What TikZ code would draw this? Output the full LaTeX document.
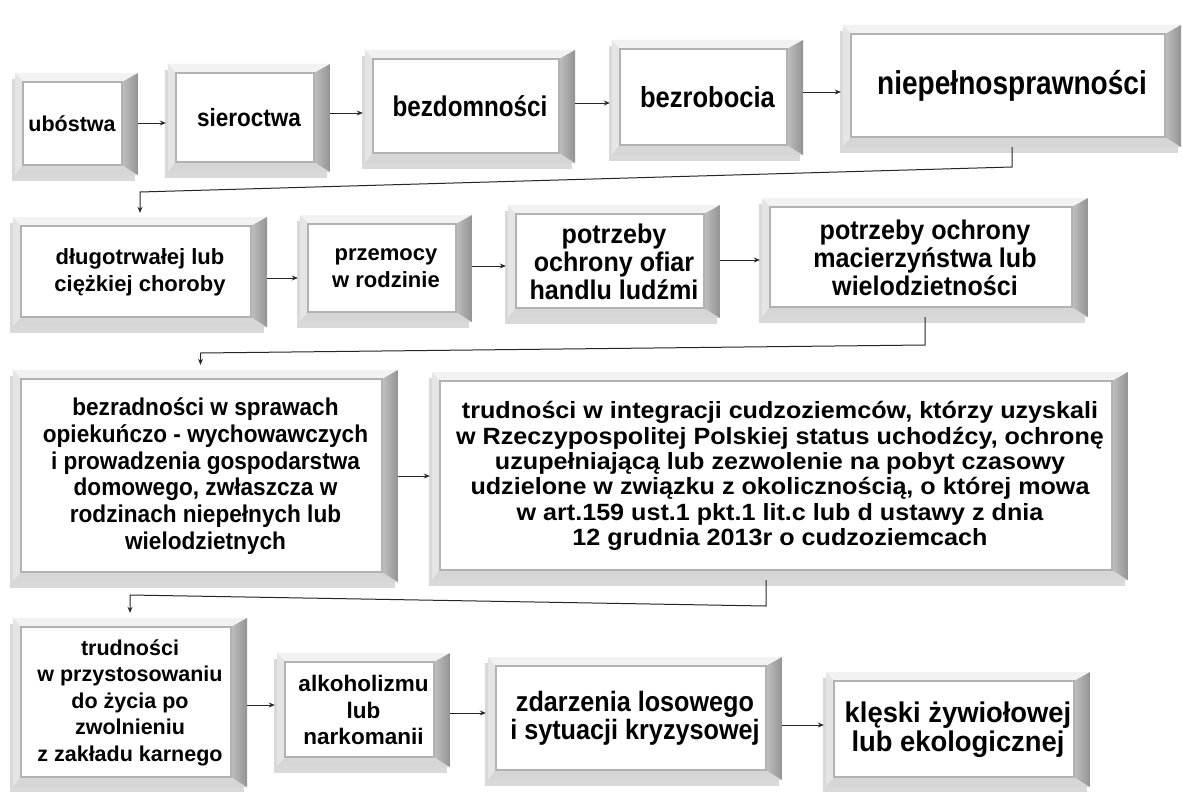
\documentclass[tikz,border=0pt]{standalone}
\usepackage{fontspec}
\setmainfont{Liberation Sans}
\newfontfamily\fA[FakeStretch=0.85]{Liberation Sans}
\newfontfamily\fB[FakeStretch=0.88]{Liberation Sans}
\newfontfamily\fC[FakeStretch=0.9]{Liberation Sans}
\newfontfamily\fD[FakeStretch=0.93]{Liberation Sans}
\newfontfamily\fE[FakeStretch=1.07]{Liberation Sans}
\newfontfamily\fF[FakeStretch=0.96]{Liberation Sans}
\usetikzlibrary{arrows.meta,shadows}
\lineskiplimit=-100pt
\tikzset{
  bev/.style={rectangle, inner sep=0pt, align=center, text=black,
    general shadow={fill=black!15, shadow xshift=-3pt, shadow yshift=-6pt},
    path picture={
      \coordinate (bsw) at (path picture bounding box.south west);
      \coordinate (bne) at (path picture bounding box.north east);
      \coordinate (bnw) at (bsw|-bne);
      \coordinate (bse) at (bne|-bsw);
      \coordinate (isw) at ([xshift=8pt,yshift=10pt]bsw);
      \coordinate (ine) at ([xshift=-16pt,yshift=-9pt]bne);
      \coordinate (inw) at (isw|-ine);
      \coordinate (ise) at (ine|-isw);
      \fill[gray!10] (bnw)--(bne)--(ine)--(inw)--cycle;
      \fill[gray!20] (bsw)--(bnw)--(inw)--(isw)--cycle;
      \fill[gray!32] (bsw)--(bse)--(ise)--(isw)--cycle;
      \shade[left color=gray!50, right color=gray!85] (bse)--(bne)--(ine)--(ise)--cycle;
      \fill[white] (isw) rectangle (ine);
      \draw[gray!60, line width=1.5pt] (isw) rectangle (ine);
    }},
  fs/.style n args={3}{font=#1\fontsize{#2}{#3}\selectfont\bfseries},
  arr/.style={draw=black!85, line width=1pt, -{Stealth[length=6pt,width=5pt]}, shorten >=2pt},
}
\begin{document}
\begin{tikzpicture}[x=1pt,y=-1pt]
\fill[white] (0,0) rectangle (1183,792);
\useasboundingbox (0,0) rectangle (1183,792);

% row 1
\node[bev, minimum width=123pt, minimum height=102pt, fs={\rmfamily}{21.5}{27}] (ubo) at (76.5,124) {ubóstwa\hspace*{9pt}};
\node[bev, minimum width=162pt, minimum height=108pt, fs={\fC}{25}{27}] (sie) at (249,118) {sieroctwa};
\node[bev, minimum width=210pt, minimum height=113pt, fs={\fA}{28.5}{30}] (bez) at (470,106.5) {bezdomności};
\node[bev, minimum width=191pt, minimum height=115pt, fs={\fB}{29}{30}] (bezr) at (707.5,97.5) {bezrobocia};
\node[bev, minimum width=338pt, minimum height=122pt, fs={\fA}{33}{34}] (niep) at (1012,86) {niepełnosprawności};

% row 2
\node[bev, minimum width=254pt, minimum height=110pt, fs={\rmfamily}{22}{27}] (dlu) at (140,272) {długotrwałej lub\\ciężkiej choroby};
\node[bev, minimum width=172pt, minimum height=107pt, fs={\rmfamily}{22}{27}] (prz) at (386,268.5) {przemocy\\w rodzinie};
\node[bev, minimum width=212pt, minimum height=113pt, fs={\fD}{27}{28}] (pot) at (614,261.5) {potrzeby\\ochrony ofiar\\handlu ludźmi};
\node[bev, minimum width=326pt, minimum height=119pt, fs={\fD}{27}{28}] (mac) at (925,257.5) {potrzeby ochrony\\macierzyństwa lub\\wielodzietności};

% row 3
\node[bev, minimum width=385pt, minimum height=212pt, fs={\fD}{24.3}{26.7}] (bzr) at (205.5,476) {bezradności w sprawach\\opiekuńczo - wychowawczych\\i prowadzenia gospodarstwa\\domowego, zwłaszcza w\\rodzinach niepełnych lub\\wielodzietnych};
\node[bev, minimum width=696pt, minimum height=208pt, fs={\fE}{23.5}{25.4}] (tru) at (780,476) {trudności w integracji cudzoziemców, którzy uzyskali\\w Rzeczypospolitej Polskiej status uchodźcy, ochronę\\uzupełniającą lub zezwolenie na pobyt czasowy\\udzielone w związku z okolicznością, o której mowa\\w art.159 ust.1 pkt.1 lit.c lub d ustawy z dnia\\12 grudnia 2013r o cudzoziemcach};

% row 4
\node[bev, minimum width=234pt, minimum height=169pt, fs={\rmfamily}{21.5}{26.5}] (prs) at (130,702.5) {trudności\\w przystosowaniu\\do życia po\\zwolnieniu\\z zakładu karnego};
\node[bev, minimum width=173pt, minimum height=114pt, fs={\rmfamily}{22.5}{26.7}] (alk) at (363.5,710) {alkoholizmu\\lub\\narkomanii};
\node[bev, minimum width=294pt, minimum height=123pt, fs={\fC}{28}{28}] (zda) at (635,718.5) {zdarzenia losowego\\i sytuacji kryzysowej};
\node[bev, minimum width=264pt, minimum height=115pt, fs={\fF}{28.5}{29}] (kle) at (958,729.5) {klęski żywiołowej\\lub ekologicznej};

% arrows in rows
\draw[arr] (ubo.east |- 0,123) -- (sie.west |- 0,123);
\draw[arr] (sie.east |- 0,113) -- (bez.west |- 0,113);
\draw[arr] (bez.east |- 0,103) -- (bezr.west |- 0,103);
\draw[arr] (bezr.east |- 0,92) -- (niep.west |- 0,92);

\draw[arr] (dlu.east |- 0,278) -- (prz.west |- 0,278);
\draw[arr] (prz.east |- 0,266) -- (pot.west |- 0,266);
\draw[arr] (pot.east |- 0,260) -- (mac.west |- 0,260);

\draw[arr] (bzr.east |- 0,476) -- (tru.west |- 0,476);

\draw[arr] (prs.east |- 0,705) -- (alk.west |- 0,705);
\draw[arr] (alk.east |- 0,713) -- (zda.west |- 0,713);
\draw[arr] (zda.east |- 0,725) -- (kle.west |- 0,725);

% elbow connectors between rows
\draw[arr, shorten >=4pt] (niep.south) -- (niep.south |- 0,167) -- (dlu.north |- 0,192) -- (dlu.north);
\draw[arr, shorten >=5pt] (mac.south) -- (mac.south |- 0,345) -- ([xshift=-5pt]bzr.north |- 0,353) -- ([xshift=-5pt]bzr.north);
\draw[arr, shorten >=5pt] ([xshift=-14pt]tru.south) -- ([xshift=-14pt]tru.south |- 0,606) -- (prs.north |- 0,595) -- (prs.north);
\end{tikzpicture}
\end{document}
